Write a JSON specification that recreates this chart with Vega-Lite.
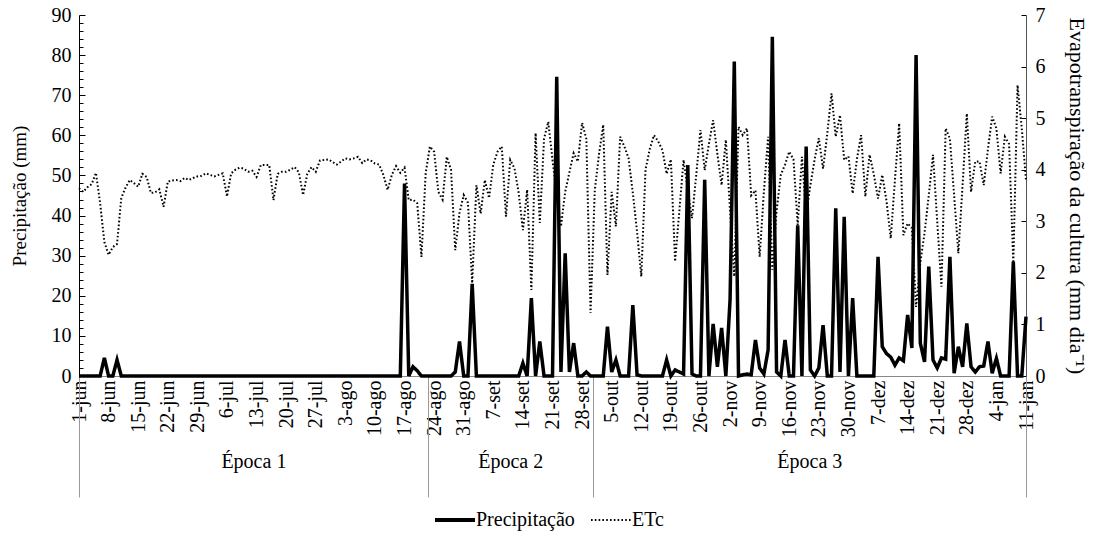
{
  "$schema": "https://vega.github.io/schema/vega-lite/v6.json",
  "width": 947,
  "height": 361,
  "autosize": "none",
  "padding": {"left": 79, "top": 15, "right": 71, "bottom": 165},
  "background": "white",
  "config": {
    "font": "Liberation Serif",
    "view": {"stroke": null},
    "axis": {"labelFont": "Liberation Serif", "titleFont": "Liberation Serif", "labelColor": "black", "titleColor": "black", "titleFontWeight": "normal", "grid": false}
  },
  "datasets": {
    "serie": [
      {"dia":0,"prec":0,"etc":3.64},{"dia":1,"prec":0,"etc":3.57},{"dia":2,"prec":0,"etc":3.66},{"dia":3,"prec":0,"etc":3.72},{"dia":4,"prec":0,"etc":3.94},
      {"dia":5,"prec":0,"etc":3.35},{"dia":6,"prec":4.5,"etc":2.6},{"dia":7,"prec":0,"etc":2.35},{"dia":8,"prec":0,"etc":2.5},{"dia":9,"prec":4,"etc":2.56},
      {"dia":10,"prec":0,"etc":3.45},{"dia":11,"prec":0,"etc":3.65},{"dia":12,"prec":0,"etc":3.8},{"dia":13,"prec":0,"etc":3.74},{"dia":14,"prec":0,"etc":3.67},
      {"dia":15,"prec":0,"etc":3.92},{"dia":16,"prec":0,"etc":3.86},{"dia":17,"prec":0,"etc":3.55},{"dia":18,"prec":0,"etc":3.56},{"dia":19,"prec":0,"etc":3.62},
      {"dia":20,"prec":0,"etc":3.28},{"dia":21,"prec":0,"etc":3.77},{"dia":22,"prec":0,"etc":3.79},{"dia":23,"prec":0,"etc":3.8},{"dia":24,"prec":0,"etc":3.78},
      {"dia":25,"prec":0,"etc":3.84},{"dia":26,"prec":0,"etc":3.8},{"dia":27,"prec":0,"etc":3.84},{"dia":28,"prec":0,"etc":3.87},{"dia":29,"prec":0,"etc":3.88},
      {"dia":30,"prec":0,"etc":3.93},{"dia":31,"prec":0,"etc":3.9},{"dia":32,"prec":0,"etc":3.87},{"dia":33,"prec":0,"etc":3.9},{"dia":34,"prec":0,"etc":3.93},
      {"dia":35,"prec":0,"etc":3.48},{"dia":36,"prec":0,"etc":3.93},{"dia":37,"prec":0,"etc":4.0},{"dia":38,"prec":0,"etc":4.04},{"dia":39,"prec":0,"etc":4.02},
      {"dia":40,"prec":0,"etc":3.96},{"dia":41,"prec":0,"etc":3.98},{"dia":42,"prec":0,"etc":3.86},{"dia":43,"prec":0,"etc":4.09},{"dia":44,"prec":0,"etc":4.09},
      {"dia":45,"prec":0,"etc":4.09},{"dia":46,"prec":0,"etc":3.41},{"dia":47,"prec":0,"etc":3.92},{"dia":48,"prec":0,"etc":3.96},{"dia":49,"prec":0,"etc":3.96},
      {"dia":50,"prec":0,"etc":4.0},{"dia":51,"prec":0,"etc":4.05},{"dia":52,"prec":0,"etc":3.95},{"dia":53,"prec":0,"etc":3.51},{"dia":54,"prec":0,"etc":3.92},
      {"dia":55,"prec":0,"etc":4.05},{"dia":56,"prec":0,"etc":3.96},{"dia":57,"prec":0,"etc":4.18},{"dia":58,"prec":0,"etc":4.19},{"dia":59,"prec":0,"etc":4.2},
      {"dia":60,"prec":0,"etc":4.15},{"dia":61,"prec":0,"etc":4.1},{"dia":62,"prec":0,"etc":4.16},{"dia":63,"prec":0,"etc":4.22},{"dia":64,"prec":0,"etc":4.2},
      {"dia":65,"prec":0,"etc":4.22},{"dia":66,"prec":0,"etc":4.25},{"dia":67,"prec":0,"etc":4.13},{"dia":68,"prec":0,"etc":4.2},{"dia":69,"prec":0,"etc":4.18},
      {"dia":70,"prec":0,"etc":4.12},{"dia":71,"prec":0,"etc":4.1},{"dia":72,"prec":0,"etc":3.9},{"dia":73,"prec":0,"etc":3.61},{"dia":74,"prec":0,"etc":3.9},
      {"dia":75,"prec":0,"etc":4.07},{"dia":76,"prec":0,"etc":3.94},{"dia":77,"prec":48,"etc":4.04},{"dia":78,"prec":0,"etc":3.41},{"dia":79,"prec":2.3,"etc":3.42},
      {"dia":80,"prec":1.3,"etc":3.35},{"dia":81,"prec":0,"etc":2.31},{"dia":82,"prec":0,"etc":3.93},{"dia":83,"prec":0,"etc":4.45},{"dia":84,"prec":0,"etc":4.35},
      {"dia":85,"prec":0,"etc":3.57},{"dia":86,"prec":0,"etc":3.42},{"dia":87,"prec":0,"etc":4.25},{"dia":88,"prec":0,"etc":4.0},{"dia":89,"prec":1,"etc":2.44},
      {"dia":90,"prec":8.6,"etc":3.16},{"dia":91,"prec":0,"etc":3.51},{"dia":92,"prec":0,"etc":3.36},{"dia":93,"prec":23,"etc":1.8},{"dia":94,"prec":0,"etc":3.7},
      {"dia":95,"prec":0,"etc":3.15},{"dia":96,"prec":0,"etc":3.8},{"dia":97,"prec":0,"etc":3.45},{"dia":98,"prec":0,"etc":4.1},{"dia":99,"prec":0,"etc":4.35},
      {"dia":100,"prec":0,"etc":4.45},{"dia":101,"prec":0,"etc":3.09},{"dia":102,"prec":0,"etc":4.19},{"dia":103,"prec":0,"etc":4.03},{"dia":104,"prec":0,"etc":3.55},
      {"dia":105,"prec":3.2,"etc":2.83},{"dia":106,"prec":0,"etc":3.61},{"dia":107,"prec":19.4,"etc":1.67},{"dia":108,"prec":0,"etc":4.71},{"dia":109,"prec":8.6,"etc":2.97},
      {"dia":110,"prec":0,"etc":4.6},{"dia":111,"prec":0,"etc":4.93},{"dia":112,"prec":0,"etc":4.19},{"dia":113,"prec":74.6,"etc":3.5},{"dia":114,"prec":1,"etc":2.9},
      {"dia":115,"prec":30.6,"etc":3.57},{"dia":116,"prec":1,"etc":3.95},{"dia":117,"prec":8.2,"etc":4.32},{"dia":118,"prec":0,"etc":4.16},{"dia":119,"prec":0,"etc":4.91},
      {"dia":120,"prec":1,"etc":4.6},{"dia":121,"prec":0,"etc":1.22},{"dia":122,"prec":0,"etc":3.6},{"dia":123,"prec":0,"etc":4.3},{"dia":124,"prec":0,"etc":4.87},
      {"dia":125,"prec":12.3,"etc":1.96},{"dia":126,"prec":1,"etc":3.57},{"dia":127,"prec":4,"etc":2.9},{"dia":128,"prec":0,"etc":4.64},{"dia":129,"prec":0,"etc":4.45},
      {"dia":130,"prec":0,"etc":4.22},{"dia":131,"prec":17.7,"etc":3.55},{"dia":132,"prec":0.3,"etc":2.8},{"dia":133,"prec":0,"etc":1.93},{"dia":134,"prec":0,"etc":4.0},
      {"dia":135,"prec":0,"etc":4.4},{"dia":136,"prec":0,"etc":4.67},{"dia":137,"prec":0,"etc":4.55},{"dia":138,"prec":0,"etc":4.38},{"dia":139,"prec":4,"etc":3.92},
      {"dia":140,"prec":0,"etc":4.2},{"dia":141,"prec":1.5,"etc":2.22},{"dia":142,"prec":1,"etc":3.2},{"dia":143,"prec":0.5,"etc":4.19},{"dia":144,"prec":52.6,"etc":3.6},
      {"dia":145,"prec":0.5,"etc":3.06},{"dia":146,"prec":0,"etc":3.9},{"dia":147,"prec":0,"etc":4.77},{"dia":148,"prec":48.9,"etc":3.99},{"dia":149,"prec":0,"etc":4.5},
      {"dia":150,"prec":13,"etc":4.96},{"dia":151,"prec":2.3,"etc":4.3},{"dia":152,"prec":12,"etc":3.7},{"dia":153,"prec":0,"etc":4.58},{"dia":154,"prec":19,"etc":3.2},
      {"dia":155,"prec":78.4,"etc":1.93},{"dia":156,"prec":0,"etc":4.83},{"dia":157,"prec":0.3,"etc":4.67},{"dia":158,"prec":0.5,"etc":4.8},{"dia":159,"prec":0.3,"etc":3.5},
      {"dia":160,"prec":9,"etc":3.6},{"dia":161,"prec":2,"etc":2.31},{"dia":162,"prec":0.5,"etc":3.57},{"dia":163,"prec":6.5,"etc":4.64},{"dia":164,"prec":84.6,"etc":2.06},
      {"dia":165,"prec":1,"etc":3.2},{"dia":166,"prec":0,"etc":3.9},{"dia":167,"prec":9,"etc":4.1},{"dia":168,"prec":0,"etc":4.35},{"dia":169,"prec":0,"etc":4.2},
      {"dia":170,"prec":37.6,"etc":2.93},{"dia":171,"prec":0,"etc":4.25},{"dia":172,"prec":57.2,"etc":3.15},{"dia":173,"prec":1.5,"etc":3.7},{"dia":174,"prec":0,"etc":4.2},
      {"dia":175,"prec":2,"etc":4.61},{"dia":176,"prec":12.7,"etc":4.02},{"dia":177,"prec":0,"etc":4.7},{"dia":178,"prec":0,"etc":5.48},{"dia":179,"prec":41.8,"etc":4.64},
      {"dia":180,"prec":1,"etc":5.06},{"dia":181,"prec":39.7,"etc":4.19},{"dia":182,"prec":0,"etc":4.26},{"dia":183,"prec":19.4,"etc":3.54},{"dia":184,"prec":0,"etc":4.2},
      {"dia":185,"prec":0,"etc":4.67},{"dia":186,"prec":0,"etc":3.48},{"dia":187,"prec":0,"etc":4.29},{"dia":188,"prec":0,"etc":3.91},{"dia":189,"prec":29.7,"etc":3.44},
      {"dia":190,"prec":7.3,"etc":3.9},{"dia":191,"prec":5.6,"etc":3.4},{"dia":192,"prec":4.7,"etc":2.67},{"dia":193,"prec":2.7,"etc":3.8},{"dia":194,"prec":4.5,"etc":4.9},
      {"dia":195,"prec":3.8,"etc":2.73},{"dia":196,"prec":15.2,"etc":2.96},{"dia":197,"prec":7,"etc":2.87},{"dia":198,"prec":80,"etc":1.34},{"dia":199,"prec":8.2,"etc":2.2},
      {"dia":200,"prec":3.5,"etc":2.77},{"dia":201,"prec":27.3,"etc":3.5},{"dia":202,"prec":4,"etc":4.29},{"dia":203,"prec":2,"etc":3.0},{"dia":204,"prec":4.5,"etc":1.73},
      {"dia":205,"prec":4.2,"etc":4.8},{"dia":206,"prec":29.7,"etc":4.6},{"dia":207,"prec":0.7,"etc":3.5},{"dia":208,"prec":7.3,"etc":2.38},{"dia":209,"prec":2.3,"etc":3.7},
      {"dia":210,"prec":13.1,"etc":5.09},{"dia":211,"prec":2.3,"etc":3.57},{"dia":212,"prec":1,"etc":4.16},{"dia":213,"prec":2.3,"etc":4.16},{"dia":214,"prec":2.5,"etc":3.7},
      {"dia":215,"prec":8.6,"etc":4.4},{"dia":216,"prec":0.7,"etc":5.03},{"dia":217,"prec":4.4,"etc":4.8},{"dia":218,"prec":0,"etc":3.93},{"dia":219,"prec":0,"etc":4.64},
      {"dia":220,"prec":0,"etc":4.5},{"dia":221,"prec":28.5,"etc":2.19},{"dia":222,"prec":0,"etc":5.64},{"dia":223,"prec":0,"etc":4.8},{"dia":224,"prec":14.8,"etc":3.8}
    ],
    "limites": [{"limite": 0}, {"limite": 82.5}, {"limite": 121.5}, {"limite": 224}]
  },
  "layer": [
    {
      "data": {"name": "serie"},
      "mark": {"type": "line", "color": "black", "strokeWidth": 2, "strokeCap": "butt", "interpolate": "linear"},
      "encoding": {
        "x": {"field": "dia", "type": "quantitative", "scale": {"domain": [0, 224], "nice": false, "zero": false},
          "axis": {"orient": "bottom", "values": [41.25, 102, 172.75], "labelExpr": "datum.value < 60 ? 'Época 1' : (datum.value < 110 ? 'Época 2' : 'Época 3')", "ticks": false, "domain": false, "labelPadding": 75, "labelFontSize": 20, "labelAngle": 0, "labelBaseline": "top", "title": null, "labelOverlap": false}},
        "y": {"field": "etc", "type": "quantitative", "scale": {"domain": [0, 7], "nice": false},
          "axis": {"orient": "right", "title": "Evapotranspiração  da cultura  (mm dia⁻¹)", "values": [0, 1, 2, 3, 4, 5, 6, 7], "tickSize": -5, "tickColor": "black", "domainColor": "#555555", "labelFontSize": 20, "titleFontSize": 22, "labelPadding": 14, "titlePadding": 19}},
        "strokeDash": {"datum": "ETc", "type": "nominal",
          "scale": {"domain": ["Precipitação", "ETc"], "range": [[1, 0], [1.6, 2.2]]},
          "legend": {"title": null, "orient": "none", "legendX": 366, "legendY": 495, "direction": "horizontal", "symbolType": "stroke", "symbolSize": 1600, "symbolStrokeColor": "black", "symbolStrokeWidth": 2, "labelFontSize": 20, "labelFont": "Liberation Serif", "labelColor": "black", "columnPadding": 12, "labelOffset": 11,
            "encode": {"symbols": {"update": {"strokeWidth": {"signal": "datum.value === 'ETc' ? 2 : 4"}}}}}}
      }
    },
    {
      "data": {"name": "serie"},
      "mark": {"type": "line", "color": "black", "strokeWidth": 3.5, "interpolate": "linear"},
      "encoding": {
        "x": {"field": "dia", "type": "quantitative", "scale": {"domain": [0, 224], "nice": false, "zero": false},
          "axis": {"orient": "bottom", "values": [0,7,14,21,28,35,42,49,56,63,70,77,84,91,98,105,112,119,126,133,140,147,154,161,168,175,182,189,196,203,210,217,224],
            "labelExpr": "date(datetime(2019, 5, 1 + datum.value)) + '-' + ['jan','fev','mar','abr','mai','jun','jul','ago','set','out','nov','dez'][month(datetime(2019, 5, 1 + datum.value))]",
            "labelAngle": -90, "labelAlign": "right", "labelBaseline": "middle", "ticks": false, "domainColor": "#888888", "labelFontSize": 20, "labelPadding": 4, "title": null, "labelOverlap": false, "labelBound": false, "labelFlush": false}},
        "y": {"field": "prec", "type": "quantitative", "scale": {"domain": [0, 90], "nice": false},
          "axis": {"orient": "left", "title": "Precipitação  (mm)", "values": [0,2,4,6,8,10,12,14,16,18,20,22,24,26,28,30,32,34,36,38,40,42,44,46,48,50,52,54,56,58,60,62,64,66,68,70,72,74,76,78,80,82,84,86,88,90],
            "labelExpr": "datum.value % 10 === 0 ? datum.label : ''",
            "tickSize": {"condition": {"test": "datum.value % 10 === 0", "value": -6}, "value": -4},
            "tickColor": "black", "domainColor": "black", "labelFontSize": 20, "titleFontSize": 19, "labelPadding": 14, "titlePadding": 22, "labelOverlap": false}},
        "strokeDash": {"datum": "Precipitação", "type": "nominal"}
      }
    },
    {
      "data": {"name": "limites"},
      "mark": {"type": "rule", "opacity": 0},
      "encoding": {
        "x": {"field": "limite", "type": "quantitative", "scale": {"domain": [0, 224], "nice": false, "zero": false},
          "axis": {"orient": "bottom", "values": [0, 82.5, 121.5, 224], "labels": false, "domain": false, "ticks": true, "tickSize": 121, "tickColor": "#999999", "tickWidth": 1, "title": null}}
      }
    }
  ],
  "resolve": {"scale": {"y": "independent"}, "axis": {"x": "independent", "y": "independent"}}
}
